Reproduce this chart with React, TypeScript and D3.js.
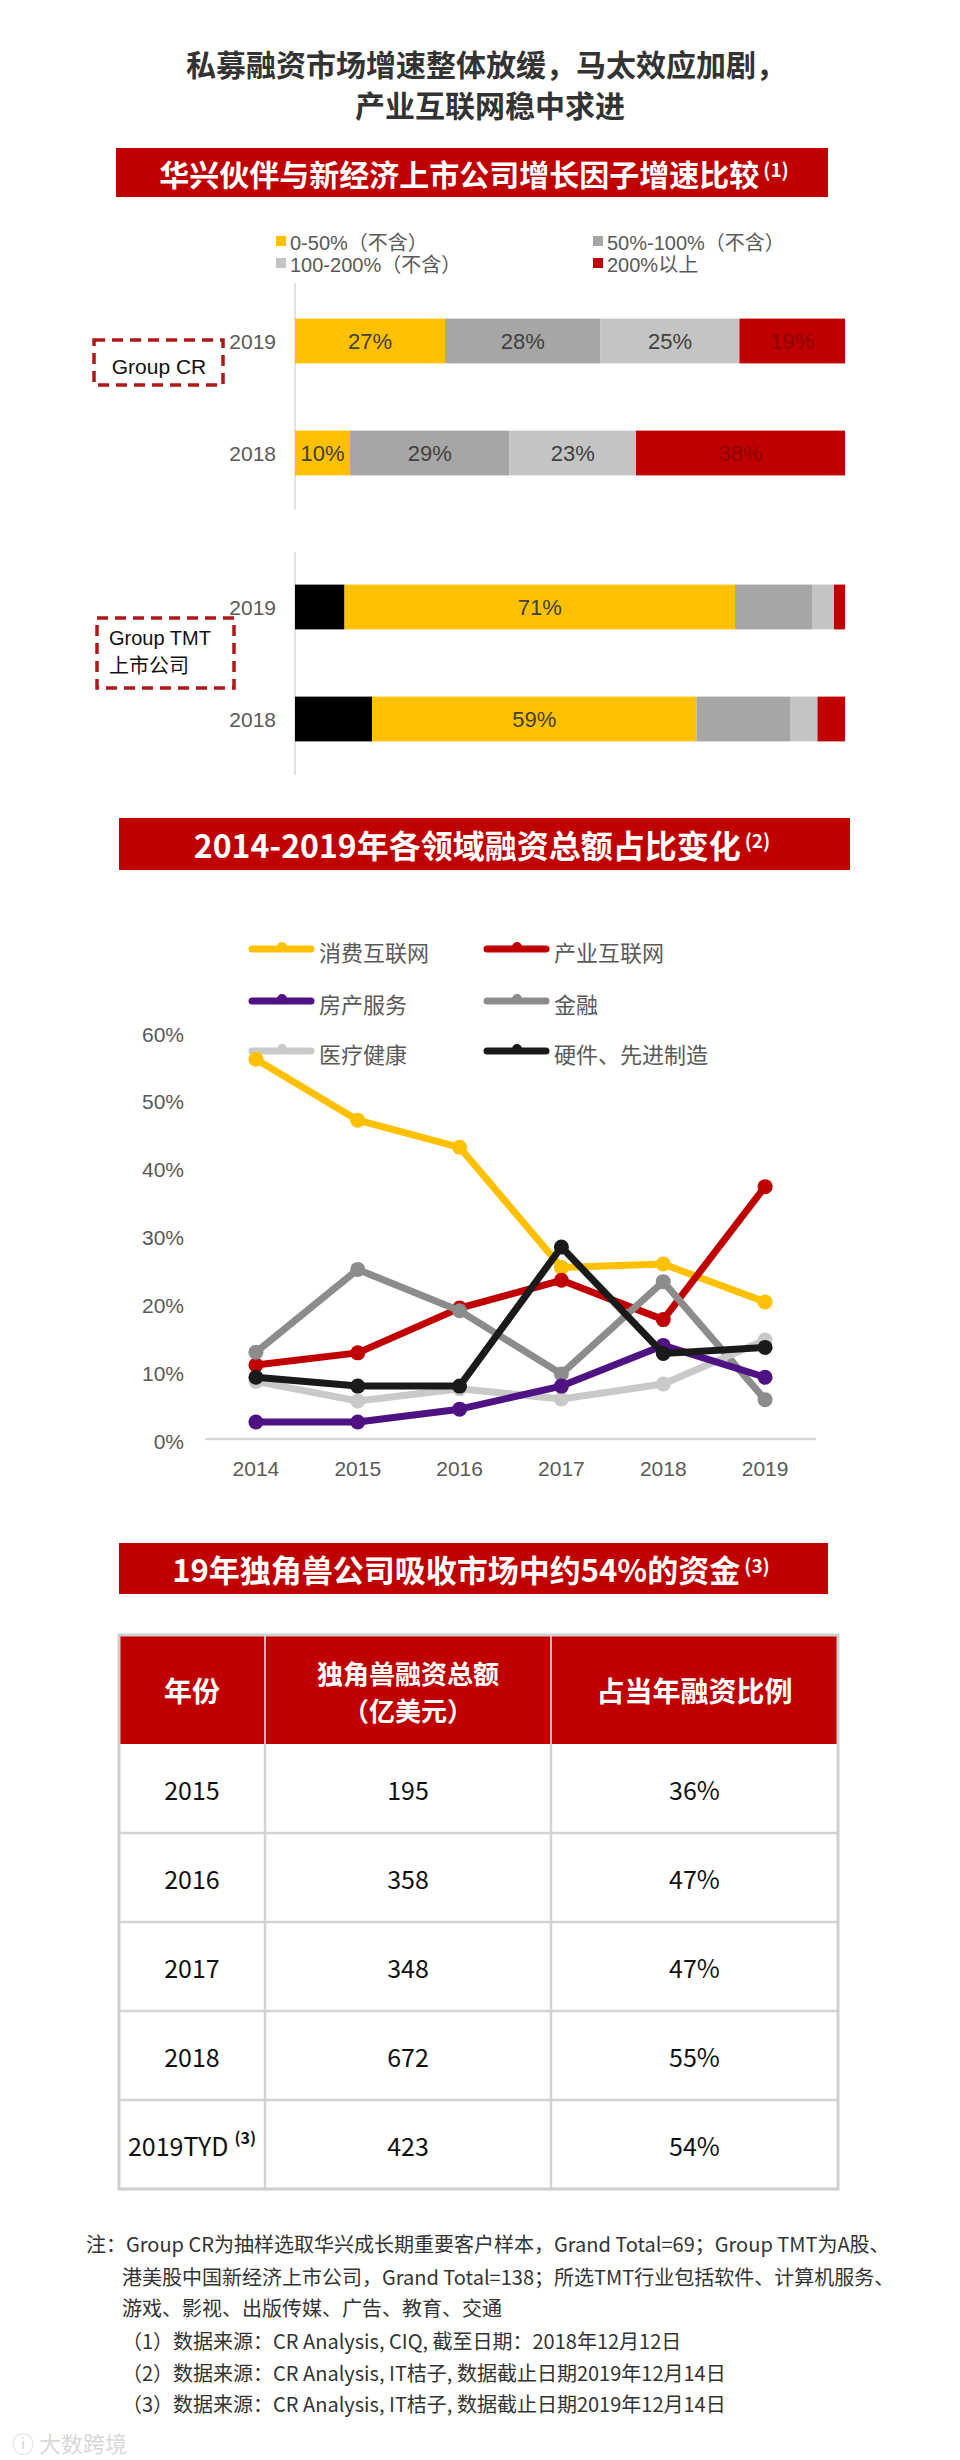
import React from "react";
import * as d3 from "d3";

// ---------- data ----------
const crLegend = ["0-50%（不含）", "50%-100%（不含）", "100-200%（不含）", "200%以上"];
const crColors = ["#FFC000", "#A6A6A6", "#C4C4C4", "#C00000"];
const barYears = ["2019", "2018"];
const cr2019 = [27, 28, 25, 19];
const cr2018 = [10, 29, 23, 38];
const tmtColors = ["#000000", "#FFC000", "#A6A6A6", "#C4C4C4", "#C00000"];
const tmt2019 = [9, 71, 14, 4, 2];
const tmt2018 = [14, 59, 17, 5, 5];

const lineYears = ["2014", "2015", "2016", "2017", "2018", "2019"];
const consumer = [56, 47, 43, 25.3, 25.8, 20.2];
const industrial = [10.9, 12.7, 19.3, 23.4, 17.6, 37.2];
const realEstate = [2.5, 2.5, 4.4, 7.8, 13.8, 9.1];
const finance = [12.8, 25, 18.9, 9.6, 23.2, 5.8];
const health = [8.5, 5.6, 7.4, 5.9, 8.1, 14.6];
const hardware = [9.1, 7.8, 7.8, 28.3, 12.6, 13.5];
const yTicks = [0, 10, 20, 30, 40, 50, 60];

const tableYears = ["2015", "2016", "2017", "2018", "2019TYD"];
const tableAmounts = [195, 358, 348, 672, 423];
const tableShares = ["36%", "47%", "47%", "55%", "54%"];

const notes = [
  "注：Group CR为抽样选取华兴成长期重要客户样本，Grand Total=69；Group TMT为A股、",
  "港美股中国新经济上市公司，Grand Total=138；所选TMT行业包括软件、计算机服务、",
  "游戏、影视、出版传媒、广告、教育、交通",
  "（1）数据来源：CR Analysis, CIQ, 截至日期：2018年12月12日",
  "（2）数据来源：CR Analysis, IT桔子, 数据截止日期2019年12月14日",
  "（3）数据来源：CR Analysis, IT桔子, 数据截止日期2019年12月14日",
];

// ---------- styles ----------
const W = 960;
const H = 2460;
const CJK = "'Noto Sans CJK SC', 'Noto Sans CJK', sans-serif";
const SANS = "'Liberation Sans', Arial, 'Noto Sans CJK SC', sans-serif";
const RED = "#C00000";

function Banner({ x0, x1, y0, y1, text, sup, cx, fs = 31 }: any) {
  return (
    <g>
      <rect x={x0} y={y0} width={x1 - x0} height={y1 - y0} fill={RED} />
      <text
        x={cx}
        y={(y0 + y1) / 2}
        textAnchor="middle"
        dominantBaseline="central"
        fill="#fff"
        fontFamily={CJK}
        fontWeight={700}
        fontSize={fs}
      >
        {text}
        <tspan fontSize={19} fontWeight={700} dx={4} dy={-5}>
          {sup}
        </tspan>
      </text>
    </g>
  );
}

function StackRow({ values, colors, band, y, labelIdx, labelColors }: any) {
  const total = d3.sum(values as number[]);
  const x = d3.scaleLinear().domain([0, total]).range([295, 845]);
  const starts = d3.cumsum([0, ...values]);
  return (
    <g>
      {values.map((v: number, i: number) => (
        <rect
          key={i}
          x={x(starts[i])}
          y={y}
          width={x(starts[i] + v) - x(starts[i])}
          height={band}
          fill={colors[i]}
        />
      ))}
      {values.map((v: number, i: number) =>
        labelIdx.includes(i) ? (
          <text
            key={"t" + i}
            x={(x(starts[i]) + x(starts[i] + v)) / 2}
            y={y + band / 2}
            textAnchor="middle"
            dominantBaseline="central"
            fontFamily={SANS}
            fontSize={22}
            fill={labelColors[i]}
          >
            {v}%
          </text>
        ) : null
      )}
    </g>
  );
}

export default function App() {
  // ---- bar chart scales ----
  const yCR = d3.scaleBand().domain(barYears).range([285, 509]).paddingInner(0.6).paddingOuter(0.3);
  const yTMT = d3.scaleBand().domain(barYears).range([551, 775]).paddingInner(0.6).paddingOuter(0.3);
  const crData = [cr2019, cr2018];
  const tmtData = [tmt2019, tmt2018];
  const crLabelColors = ["#404040", "#404040", "#404040", "#8E0000"];
  const tmtLabelColors = ["#404040", "#404040", "#404040", "#404040", "#404040"];

  // ---- line chart scales ----
  const x = d3.scalePoint().domain(lineYears).range([205, 816]).padding(0.5);
  const y = d3.scaleLinear().domain([0, 60]).range([1439, 1032]);
  const line = d3
    .line<number>()
    .x((_, i) => x(lineYears[i]) as number)
    .y((d) => y(d));

  const series = [
    { name: "消费互联网", data: consumer, color: "#FFC000" },
    { name: "产业互联网", data: industrial, color: "#C00000" },
    { name: "房产服务", data: realEstate, color: "#4F1283" },
    { name: "金融", data: finance, color: "#8C8C8C" },
    { name: "医疗健康", data: health, color: "#C9C9C9" },
    { name: "硬件、先进制造", data: hardware, color: "#1A1A1A" },
  ];
  const drawOrder = [0, 1, 3, 4, 2, 5];

  // ---- table layout ----
  const colEdges = [119, 265, 551, 838];
  const tTop = 1635;
  const headH = 109;
  const rowH = 89;
  const rowY = d3.scaleBand().domain(tableYears).range([tTop + headH, tTop + headH + rowH * tableYears.length]);
  const tBottom = tTop + headH + rowH * tableYears.length;
  const colMid = (i: number) => (colEdges[i] + colEdges[i + 1]) / 2;

  return (
    <div style={{ position: "absolute", left: 0, top: 0 }}>
      <svg width={W} height={H} viewBox={`0 0 ${W} ${H}`} style={{ display: "block", background: "#fff" }}>
        <rect x={0} y={0} width={W} height={H} fill="#fff" />
        {/* Title */}
        <text x={486} y={63} textAnchor="middle" dominantBaseline="central" fontFamily={CJK} fontWeight={700} fontSize={30} fill="#333">
          私募融资市场增速整体放缓，马太效应加剧，
        </text>
        <text x={490} y={104} textAnchor="middle" dominantBaseline="central" fontFamily={CJK} fontWeight={700} fontSize={30} fill="#333">
          产业互联网稳中求进
        </text>

        {/* Section 1 */}
        <Banner x0={116} x1={828} y0={148} y1={197} cx={474} text="华兴伙伴与新经济上市公司增长因子增速比较" sup="(1)" fs={30} />

        {crLegend.map((t, i) => {
          const lx = i % 2 === 0 ? 276 : 593;
          const ly = i < 2 ? 243 : 265;
          return (
            <g key={t}>
              <rect x={lx} y={ly - 7} width={10} height={10} fill={crColors[i]} />
              <text x={lx + 14} y={ly} dominantBaseline="central" fontFamily={SANS} fontSize={20} fill="#595959">
                {t}
              </text>
            </g>
          );
        })}

        <line x1={295} x2={295} y1={283} y2={510} stroke="#D9D9D9" strokeWidth={1.5} />
        <line x1={295} x2={295} y1={552} y2={775} stroke="#D9D9D9" strokeWidth={1.5} />

        {barYears.map((yr, r) => (
          <g key={"cr" + yr}>
            <StackRow values={crData[r]} colors={crColors} band={yCR.bandwidth()} y={yCR(yr)} labelIdx={[0, 1, 2, 3]} labelColors={crLabelColors} />
            <text x={276} y={(yCR(yr) as number) + yCR.bandwidth() / 2} textAnchor="end" dominantBaseline="central" fontFamily={SANS} fontSize={21} fill="#595959">
              {yr}
            </text>
          </g>
        ))}
        {barYears.map((yr, r) => (
          <g key={"tmt" + yr}>
            <StackRow values={tmtData[r]} colors={tmtColors} band={yTMT.bandwidth()} y={yTMT(yr)} labelIdx={[1]} labelColors={tmtLabelColors} />
            <text x={276} y={(yTMT(yr) as number) + yTMT.bandwidth() / 2} textAnchor="end" dominantBaseline="central" fontFamily={SANS} fontSize={21} fill="#595959">
              {yr}
            </text>
          </g>
        ))}

        {/* dashed boxes */}
        <rect x={94} y={340} width={129} height={45} fill="none" stroke="#B01818" strokeWidth={3.5} strokeDasharray="11 7" />
        <text x={159} y={366} textAnchor="middle" dominantBaseline="central" fontFamily={SANS} fontSize={21} fill="#111">
          Group CR
        </text>
        <rect x={97} y={618} width={137} height={70} fill="none" stroke="#B01818" strokeWidth={3.5} strokeDasharray="11 7" />
        <text x={109} y={638} dominantBaseline="central" fontFamily={SANS} fontSize={20} fill="#111">
          Group TMT
        </text>
        <text x={109} y={664} dominantBaseline="central" fontFamily={CJK} fontSize={20} fill="#111">
          上市公司
        </text>

        {/* Section 2 */}
        <Banner x0={119} x1={850} y0={818} y1={870} cx={482} text="2014-2019年各领域融资总额占比变化" sup="(2)" fs={32} />

        {series.map((s, i) => {
          const lx = i % 2 === 0 ? 249 : 484;
          const ly = [949, 1001, 1051][Math.floor(i / 2)];
          return (
            <g key={"lg" + s.name}>
              <line x1={lx + 3} x2={lx + 62} y1={ly} y2={ly} stroke={s.color} strokeWidth={7} strokeLinecap="round" />
              <circle cx={lx + 33} cy={ly - 2} r={5} fill={s.color} />
              <text x={lx + 70} y={ly + 2} dominantBaseline="central" fontFamily={CJK} fontSize={22} fill="#595959">
                {s.name}
              </text>
            </g>
          );
        })}

        {yTicks.map((t) => (
          <text key={"yt" + t} x={184} y={y(t) + 2} textAnchor="end" dominantBaseline="central" fontFamily={SANS} fontSize={21} fill="#595959">
            {t}%
          </text>
        ))}
        <line x1={205} x2={816} y1={y(0)} y2={y(0)} stroke="#D9D9D9" strokeWidth={2.5} />
        {lineYears.map((yr) => (
          <text key={"xt" + yr} x={x(yr)} y={1468} textAnchor="middle" dominantBaseline="central" fontFamily={SANS} fontSize={21} fill="#595959">
            {yr}
          </text>
        ))}

        {drawOrder.map((k) => {
          const s = series[k];
          return (
            <g key={"ln" + s.name}>
              <path d={line(s.data) as string} fill="none" stroke={s.color} strokeWidth={7} strokeLinejoin="round" strokeLinecap="round" />
              {s.data.map((v, i) => (
                <circle key={i} cx={x(lineYears[i])} cy={y(v)} r={7.5} fill={s.color} />
              ))}
            </g>
          );
        })}

        {/* Section 3 */}
        <Banner x0={119} x1={828} y0={1543} y1={1594} cx={471} text="19年独角兽公司吸收市场中约54%的资金" sup="(3)" fs={31} />

        <rect x={colEdges[0]} y={tTop} width={colEdges[3] - colEdges[0]} height={headH} fill={RED} />
        {/* header texts */}
        <text x={colMid(0)} y={tTop + headH / 2} textAnchor="middle" dominantBaseline="central" fontFamily={CJK} fontWeight={700} fontSize={28} fill="#fff">
          年份
        </text>
        <text x={colMid(1)} y={tTop + 37} textAnchor="middle" dominantBaseline="central" fontFamily={CJK} fontWeight={700} fontSize={26} fill="#fff">
          独角兽融资总额
        </text>
        <text x={colMid(1)} y={tTop + 74} textAnchor="middle" dominantBaseline="central" fontFamily={CJK} fontWeight={700} fontSize={26} fill="#fff">
          （亿美元）
        </text>
        <text x={colMid(2)} y={tTop + headH / 2} textAnchor="middle" dominantBaseline="central" fontFamily={CJK} fontWeight={700} fontSize={28} fill="#fff">
          占当年融资比例
        </text>

        {tableYears.map((yr, i) => {
          const cy = (rowY(yr) as number) + rowY.bandwidth() / 2;
          return (
            <g key={"row" + yr}>
              <text x={colMid(0)} y={cy} textAnchor="middle" dominantBaseline="central" fontFamily={CJK} fontSize={25} fill="#111">
                {yr}
                {i === tableYears.length - 1 ? (
                  <tspan fontSize={16} fontWeight={700} dx={6} dy={-8}>
                    (3)
                  </tspan>
                ) : null}
              </text>
              <text x={colMid(1)} y={cy} textAnchor="middle" dominantBaseline="central" fontFamily={CJK} fontSize={25} fill="#111">
                {tableAmounts[i]}
              </text>
              <text x={colMid(2)} y={cy} textAnchor="middle" dominantBaseline="central" fontFamily={CJK} fontSize={25} fill="#111">
                {tableShares[i]}
              </text>
              <line x1={colEdges[0]} x2={colEdges[3]} y1={(rowY(yr) as number) + rowH} y2={(rowY(yr) as number) + rowH} stroke="#D3D3D3" strokeWidth={2.5} />
            </g>
          );
        })}
        {colEdges.slice(1, 3).map((cx) => (
          <g key={"vc" + cx}>
            <line x1={cx} x2={cx} y1={tTop} y2={tTop + headH} stroke="#E6B3B3" strokeWidth={2} />
            <line x1={cx} x2={cx} y1={tTop + headH} y2={tBottom} stroke="#D3D3D3" strokeWidth={2.5} />
          </g>
        ))}
        <rect x={colEdges[0]} y={tTop} width={colEdges[3] - colEdges[0]} height={tBottom - tTop} fill="none" stroke="#CFCFCF" strokeWidth={3} />

        {/* Notes */}
        {notes.map((n, i) => (
          <text
            key={"note" + i}
            x={i === 0 ? 86 : 122}
            y={[2243, 2276, 2307, 2340, 2372, 2403][i]}
            dominantBaseline="central"
            fontFamily={CJK}
            fontSize={20}
            fill="#333"
          >
            {n}
          </text>
        ))}

        {/* watermark */}
        <text x={12} y={2442} dominantBaseline="central" fontFamily={CJK} fontSize={22} fill="#D8D8D8">
          ⓘ 大数跨境
        </text>
      </svg>
    </div>
  );
}
